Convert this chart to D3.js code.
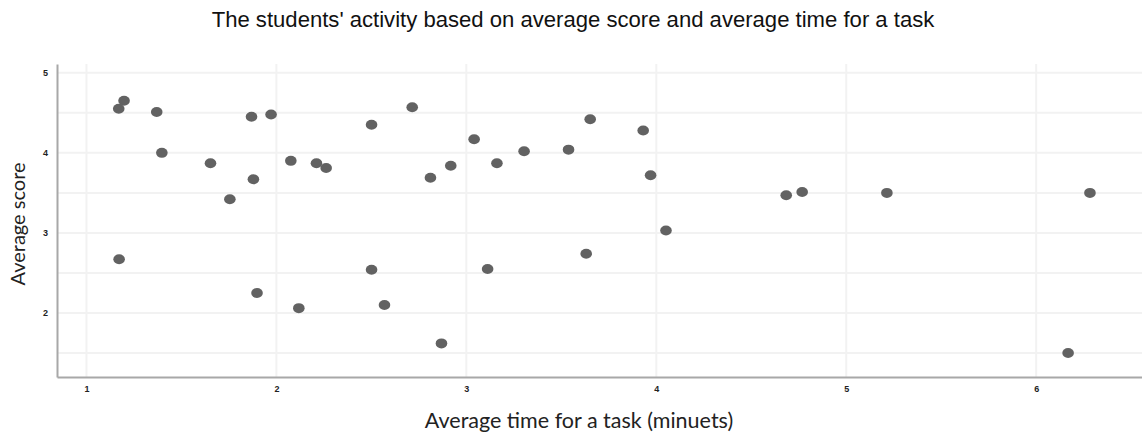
<!DOCTYPE html>
<html>
<head>
<meta charset="utf-8">
<script src="https://cdn.jsdelivr.net/npm/d3@7"></script>
<style>
  body { margin: 0; background: #fff; }
  svg { display: block; }
</style>
</head>
<body>
<svg></svg>
<script>
var width = 1142;
var height = 434;
var margin = {top: 64, right: 0, bottom: 57, left: 57};

// average time for a task (minutes)
var times = [1.198, 1.170, 1.370, 1.397, 1.653, 1.755, 1.869, 1.972, 1.879, 2.076,
             2.211, 2.262, 2.501, 1.172, 1.898, 2.118, 2.501, 2.569, 2.715, 2.811,
             2.918, 3.041, 3.161, 3.304, 3.538, 3.652, 3.931, 3.970, 4.051, 2.869,
             3.112, 3.631, 4.684, 4.768, 5.214, 6.283, 6.168];
// average score
var scores = [4.65, 4.55, 4.51, 4.00, 3.87, 3.42, 4.45, 4.48, 3.67, 3.90,
              3.87, 3.81, 4.35, 2.67, 2.25, 2.06, 2.54, 2.10, 4.57, 3.69,
              3.84, 4.17, 3.87, 4.02, 4.04, 4.42, 4.28, 3.72, 3.03, 1.62,
              2.55, 2.74, 3.47, 3.51, 3.50, 3.50, 1.50];

var xTicks = [1, 2, 3, 4, 5, 6];
var yTicks = [2, 3, 4, 5];
var yGrid = [1.5, 2, 2.5, 3, 3.5, 4, 4.5, 5];

var x = d3.scaleLinear()
    .domain([0.845, 6.557])
    .range([margin.left, width - margin.right]);

var y = d3.scaleLinear()
    .domain([1.2, 5.11])
    .range([height - margin.bottom, margin.top]);

const svg = d3.select('svg')
    .attr("width", width)
    .attr("height", height);

// grid
svg.append("g")
    .selectAll("line")
    .data(yGrid)
    .join("line")
    .attr("x1", margin.left)
    .attr("x2", width - margin.right)
    .attr("y1", d => y(d))
    .attr("y2", d => y(d))
    .attr("stroke", "#f2f2f2")
    .attr("stroke-width", 2);

svg.append("g")
    .selectAll("line")
    .data(xTicks)
    .join("line")
    .attr("x1", d => x(d))
    .attr("x2", d => x(d))
    .attr("y1", margin.top)
    .attr("y2", height - margin.bottom)
    .attr("stroke", "#f2f2f2")
    .attr("stroke-width", 2);

const xAxis = d3.axisBottom(x).tickValues(xTicks).tickSize(0).tickPadding(9).tickFormat(d3.format("d"));
const yAxis = d3.axisLeft(y).tickValues(yTicks).tickSize(0).tickPadding(9).tickFormat(d3.format("d"));

const gx = svg.append("g")
    .attr("transform", `translate(0,${height - margin.bottom})`)
    .call(xAxis);

const gy = svg.append("g")
    .attr("transform", `translate(${margin.left},0)`)
    .call(yAxis);

[gx, gy].forEach(g => {
    g.select(".domain").attr("stroke", "#a8a8a8").attr("stroke-width", 2);
    g.selectAll("text")
        .attr("font-family", "Liberation Sans, Arial, sans-serif")
        .attr("font-size", 9)
        .attr("font-weight", "bold")
        .attr("fill", "#222");
});

// points
svg.append("g")
    .selectAll("ellipse")
    .data(times)
    .join("ellipse")
    .attr("cx", d => x(d))
    .attr("cy", (d, i) => y(scores[i]))
    .attr("rx", 5.8)
    .attr("ry", 5)
    .attr("fill", "#626262");

// title
svg.append("text")
    .attr("x", 573)
    .attr("y", 27)
    .attr("text-anchor", "middle")
    .attr("font-family", "Liberation Sans, Arial, sans-serif")
    .attr("font-size", 22.1)
    .attr("fill", "#111")
    .text("The students' activity based on average score and average time for a task");

// axis titles
svg.append("text")
    .attr("x", 579)
    .attr("y", 428)
    .attr("text-anchor", "middle")
    .attr("font-family", "Lato, sans-serif")
    .attr("font-size", 21.5)
    .attr("fill", "#222")
    .text("Average time for a task (minuets)");

svg.append("text")
    .attr("transform", "translate(25,224) rotate(-90)")
    .attr("text-anchor", "middle")
    .attr("font-family", "Lato, sans-serif")
    .attr("font-size", 20)
    .attr("fill", "#222")
    .text("Average score");
</script>
</body>
</html>
